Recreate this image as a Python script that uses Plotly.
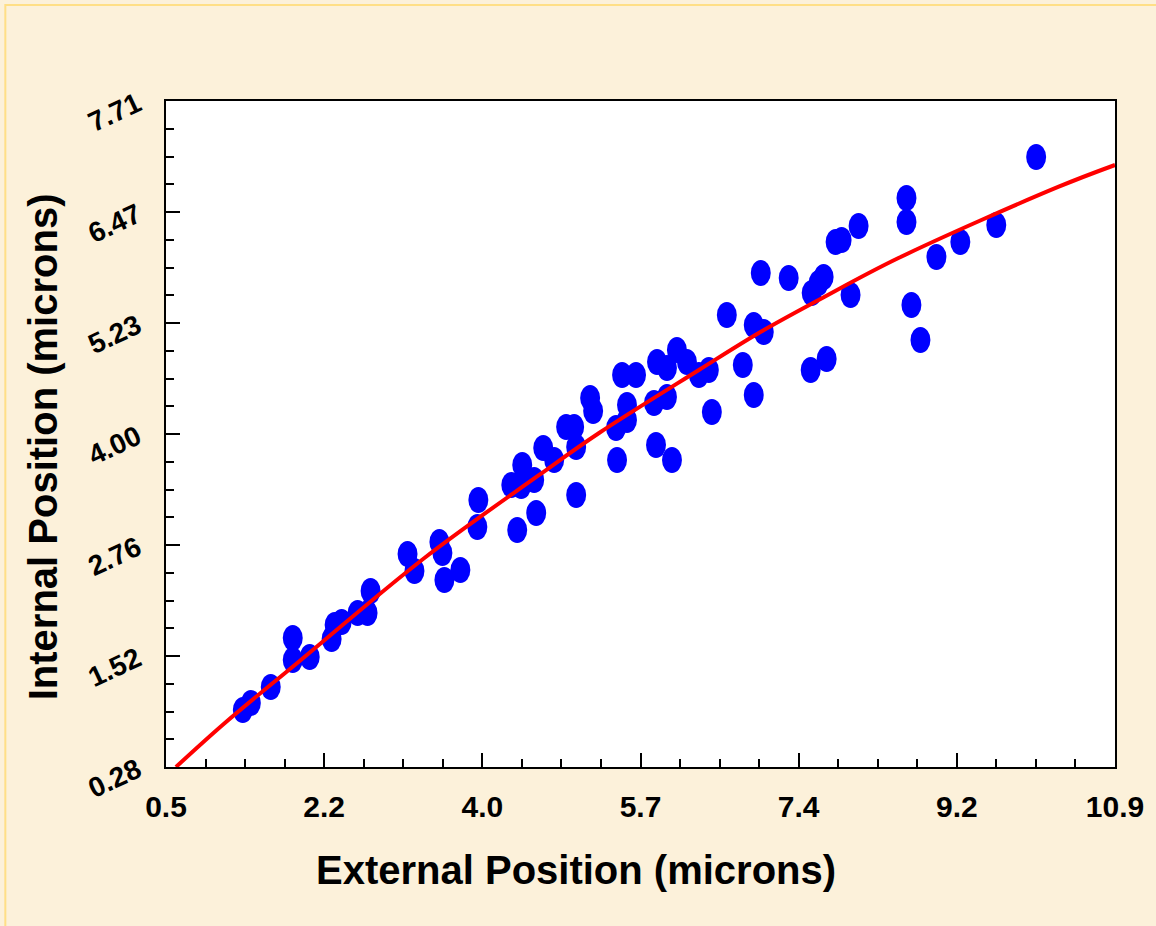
import numpy as np
import plotly.graph_objects as go

# ---- data ----
ext_pos = [1.342, 1.430, 1.648, 1.889, 1.889, 2.075, 2.315, 2.348, 2.425, 2.600,
           2.709, 2.742, 3.147, 3.223, 3.496, 3.529, 3.551, 3.726, 3.923, 3.912,
           4.284, 4.349, 4.404, 4.393, 4.557, 4.535, 4.634, 4.754, 4.885, 4.973,
           4.995, 4.995, 5.148, 5.181, 5.432, 5.443, 5.498, 5.651, 5.552, 5.552,
           5.848, 5.870, 5.881, 5.990, 5.990, 6.045, 6.099, 6.209, 6.340, 6.449,
           6.482, 6.646, 6.821, 6.941, 6.941, 7.051, 7.018, 7.324, 7.565, 7.740,
           7.576, 7.652, 7.707, 8.002, 7.838, 7.904, 8.090, 8.615, 8.615, 8.669,
           8.768, 8.943, 9.205, 9.599, 10.036]
int_pos = [0.916, 0.994, 1.173, 1.719, 1.474, 1.507, 1.708, 1.864, 1.898, 1.998,
           1.998, 2.244, 2.656, 2.467, 2.790, 2.667, 2.366, 2.478, 3.259, 2.958,
           3.426, 2.924, 3.649, 3.415, 3.114, 3.482, 3.839, 3.705, 4.073, 4.073,
           3.315, 3.850, 4.397, 4.252, 4.062, 3.705, 4.653, 4.653, 4.319, 4.151,
           4.341, 3.872, 4.798, 4.731, 4.408, 3.705, 4.932, 4.798, 4.653, 4.709,
           4.240, 5.323, 4.765, 4.430, 5.211, 5.133, 5.791, 5.735, 4.709, 4.832,
           5.568, 5.680, 5.747, 5.546, 6.137, 6.159, 6.315, 6.628, 6.360, 5.434,
           5.044, 5.970, 6.137, 6.327, 7.085]

fit_x = [0.609, 1.145, 1.965, 3.332, 4.590, 5.246, 6.340, 6.996, 7.652, 8.527, 10.277, 10.9]
fit_y = [0.280, 0.771, 1.463, 2.612, 3.538, 4.006, 4.709, 5.122, 5.490, 5.958, 6.751, 6.996]

x_ticklabels = ["0.5", "2.2", "4.0", "5.7", "7.4", "9.2", "10.9"]
y_ticklabels = ["0.28", "1.52", "2.76", "4.00", "5.23", "6.47", "7.71"]

x_title = "External Position (microns)"
y_title = "Internal Position (microns)"

X_MIN, X_MAX = 0.5, 10.9
Y_MIN, Y_MAX = 0.28, 7.71

# ---- layout geometry ----
W, H = 1156, 926
L, R, T, B = 166, 39, 101, 159
plot_w = W - L - R
plot_h = H - T - B

x_major = np.linspace(X_MIN, X_MAX, 7)
y_major = np.linspace(Y_MIN, Y_MAX, 7)
x_minor = np.linspace(X_MIN, X_MAX, 25)
y_minor = np.linspace(Y_MIN, Y_MAX, 25)

# ellipse marker size in data units (20 x 26 px)
rx = 10 * (X_MAX - X_MIN) / plot_w
ry = 13 * (Y_MAX - Y_MIN) / plot_h

FONT = "Arial, Liberation Sans, Helvetica, sans-serif"
BG = "#FCF1DA"

fig = go.Figure()

fig.add_trace(go.Scatter(x=ext_pos, y=int_pos, mode="markers",
                         marker=dict(color="rgba(0,0,255,0)", size=20),
                         showlegend=False, hoverinfo="x+y"))

shapes = []
for xv, yv in zip(ext_pos, int_pos):
    shapes.append(dict(type="circle", xref="x", yref="y",
                       x0=xv - rx, x1=xv + rx, y0=yv - ry, y1=yv + ry,
                       fillcolor="#0000FF", line=dict(width=0), layer="below"))

# frame border of the slide
shapes.append(dict(type="rect", xref="paper", yref="paper",
                   x0=(5 - L) / plot_w, x1=(W + 20 - L) / plot_w,
                   y0=-(H + 20 - T - plot_h) / plot_h, y1=1 + (T - 5) / plot_h,
                   line=dict(color="#FFDF86", width=2), fillcolor="rgba(0,0,0,0)",
                   layer="below"))

fig.add_trace(go.Scatter(x=fit_x, y=fit_y, mode="lines",
                         line=dict(color="#FF0000", width=4, shape="spline"),
                         showlegend=False, hoverinfo="skip"))

axis_common = dict(
    showgrid=False, zeroline=False,
    showline=True, linecolor="black", linewidth=2, mirror=True,
    ticks="inside", ticklen=14, tickwidth=2, tickcolor="black",
)

fig.update_layout(
    width=W, height=H,
    margin=dict(l=L, r=R, t=T, b=B),
    paper_bgcolor=BG,
    plot_bgcolor="white",
    shapes=shapes,
    xaxis=dict(
        **axis_common,
        range=[X_MIN, X_MAX],
        tickmode="array", tickvals=list(x_major), ticktext=x_ticklabels,
        tickfont=dict(family=FONT, size=30, color="black", weight="bold"),
        ticklabelstandoff=12,
        minor=dict(tickmode="array", tickvals=list(x_minor), ticks="inside",
                   ticklen=8, tickwidth=2, tickcolor="black"),
    ),
    yaxis=dict(
        **axis_common,
        range=[Y_MIN, Y_MAX],
        tickmode="array", tickvals=list(y_major), ticktext=y_ticklabels,
        tickangle=-25,
        tickfont=dict(family=FONT, size=28, color="black", weight="bold"),
        ticklabelstandoff=21,
        minor=dict(tickmode="array", tickvals=list(y_minor), ticks="inside",
                   ticklen=8, tickwidth=2, tickcolor="black"),
    ),
    annotations=[
        dict(text=x_title, xref="paper", yref="paper",
             x=(577 - L) / plot_w, y=-(870 - T - plot_h) / plot_h,
             xanchor="center", yanchor="middle", showarrow=False,
             font=dict(family=FONT, size=40, color="black", weight="bold")),
        dict(text=y_title, xref="paper", yref="paper", textangle=-90,
             x=(43 - L) / plot_w, y=1 - (447 - T) / plot_h,
             xanchor="center", yanchor="middle", showarrow=False,
             font=dict(family=FONT, size=40, color="black", weight="bold")),
    ],
)

fig.write_html("out.html",
               config={"displayModeBar": False},
               post_script="document.body.style.margin='0';"
                           "document.body.style.background='" + BG + "';")
